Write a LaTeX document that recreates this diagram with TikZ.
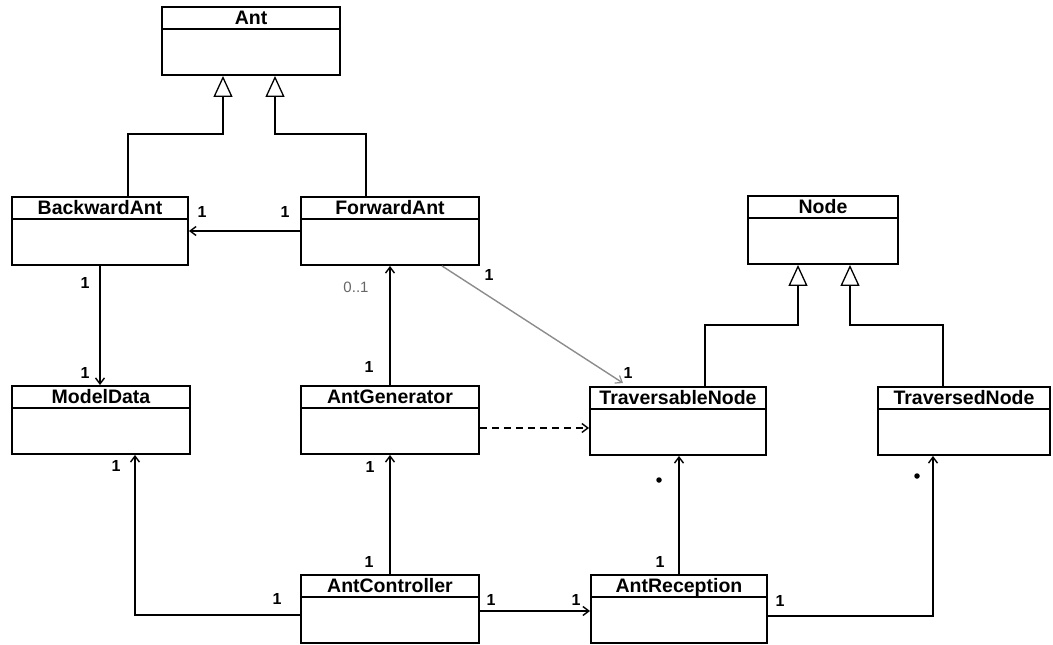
\documentclass[tikz,border=0pt]{standalone}
\usepackage{fontspec}
\setmainfont{Liberation Sans}
\usetikzlibrary{arrows.meta,positioning}

% UML class box: name, centre x, centre y, width, title
\newcommand\umlclass[5]{%
  \node[clsbox, minimum width=#4pt] (#1) at (#2,#3) {};
  \draw[clsline] ([yshift=-23pt]#1.north west) -- ([yshift=-23pt]#1.north east);
  \node[clstitle, anchor=base] (#1-t) at ([yshift=-18pt]#1.north) {#5};
}

\tikzset{
  clsbox/.style={draw, line width=1.9pt, minimum height=68pt, inner sep=0pt, fill=white},
  clsline/.style={line width=1.8pt},
  clstitle/.style={font=\fontsize{19.5}{21}\selectfont\bfseries, inner sep=0pt},
  mult/.style={font=\fontsize{16}{18}\selectfont\bfseries, inner sep=0pt},
  inherit/.style={line width=1.8pt, -{Triangle[open, length=21pt, width=19pt, line width=1.3pt]}},
  assoc/.style={line width=1.8pt, -{Straight Barb[length=6pt, width=9pt, line width=1.4pt]}},
  assocgray/.style={line width=1.4pt, black!45, -{Straight Barb[length=6pt, width=9pt, line width=1.2pt]}},
  depend/.style={line width=1.8pt, dash pattern=on 7pt off 5pt, -{Straight Barb[length=6pt, width=9pt, line width=1.4pt]}},
  dotmark/.style={circle, fill=black, inner sep=0pt, minimum size=5.5pt},
}

\begin{document}
\begin{tikzpicture}[x=1pt, y=-1pt]
  \useasboundingbox (0,0) rectangle (1053,645);

  % classes
  \umlclass{ant}{251}{41}{178}{Ant}
  \umlclass{back}{100}{231}{176}{BackwardAnt}
  \umlclass{fwd}{390}{231}{178}{ForwardAnt}
  \umlclass{node}{823}{230}{150}{Node}
  \umlclass{model}{101}{420}{178}{ModelData}
  \umlclass{gen}{390}{420}{178}{AntGenerator}
  \umlclass{trav}{678}{421}{176}{TraversableNode}
  \umlclass{travd}{964}{421}{172}{TraversedNode}
  \umlclass{ctrl}{390}{609}{178}{AntController}
  \umlclass{recp}{679}{609}{176}{AntReception}

  % generalisations
  \draw[inherit] ([xshift=28pt]back.north) -- ++(0,-62) -| ([xshift=-28pt]ant.south);
  \draw[inherit] ([xshift=-24pt]fwd.north) -- ++(0,-62) -| ([xshift=24pt]ant.south);
  \draw[inherit] ([xshift=27pt]trav.north) -- ++(0,-61) -| ([xshift=-25pt]node.south);
  \draw[inherit] ([xshift=-21pt]travd.north) -- ++(0,-61) -| ([xshift=27pt]node.south);

  % associations
  \draw[assoc] (fwd.west) -- (back.east);
  \draw[assoc] (back.south) -- (back.south |- model.north);
  \draw[assoc] (gen.north) -- (fwd.south);
  \draw[assocgray] ([xshift=52pt]fwd.south) -- ([xshift=-55pt,yshift=3pt]trav.north);
  \draw[depend] ([yshift=-8pt]gen.east) -- ([yshift=-8pt]gen.east -| trav.west);
  \draw[assoc] ([yshift=-6pt]ctrl.west) -| ([xshift=34pt]model.south);
  \draw[assoc] (ctrl.north) -- (gen.south);
  \draw[assoc] ([yshift=-2pt]ctrl.east) -- ([yshift=-2pt]ctrl.east -| recp.west);
  \draw[assoc] (recp.north) -- (recp.north |- trav.south);
  \draw[assoc] ([yshift=-7pt]recp.east) -| ([xshift=-31pt]travd.south);

  % multiplicities
  \node[mult] (m1) at (202,212) {1};
  \node[mult] (m2) at (285,212) {1};
  \node[mult] (m3) at (85,283) {1};
  \node[mult] (m4) at (85,373) {1};
  \node[mult, font=\fontsize{15}{17}\selectfont, black!60] (m5) at (356,287) {0..1};
  \node[mult] (m6) at (369,367) {1};
  \node[mult] (m7) at (489,275) {1};
  \node[mult] (m8) at (628,373) {1};
  \node[mult] (m9) at (116,466) {1};
  \node[mult] (m10) at (370,467) {1};
  \node[mult] (m11) at (369,562) {1};
  \node[mult] (m12) at (277,599) {1};
  \node[mult] (m13) at (491,600) {1};
  \node[mult] (m14) at (576,600) {1};
  \node[mult] (m15) at (660,562) {1};
  \node[mult] (m16) at (780,601) {1};
  \node[dotmark] (m17) at (659,480) {};
  \node[dotmark] (m18) at (917,476) {};
\end{tikzpicture}
\end{document}
